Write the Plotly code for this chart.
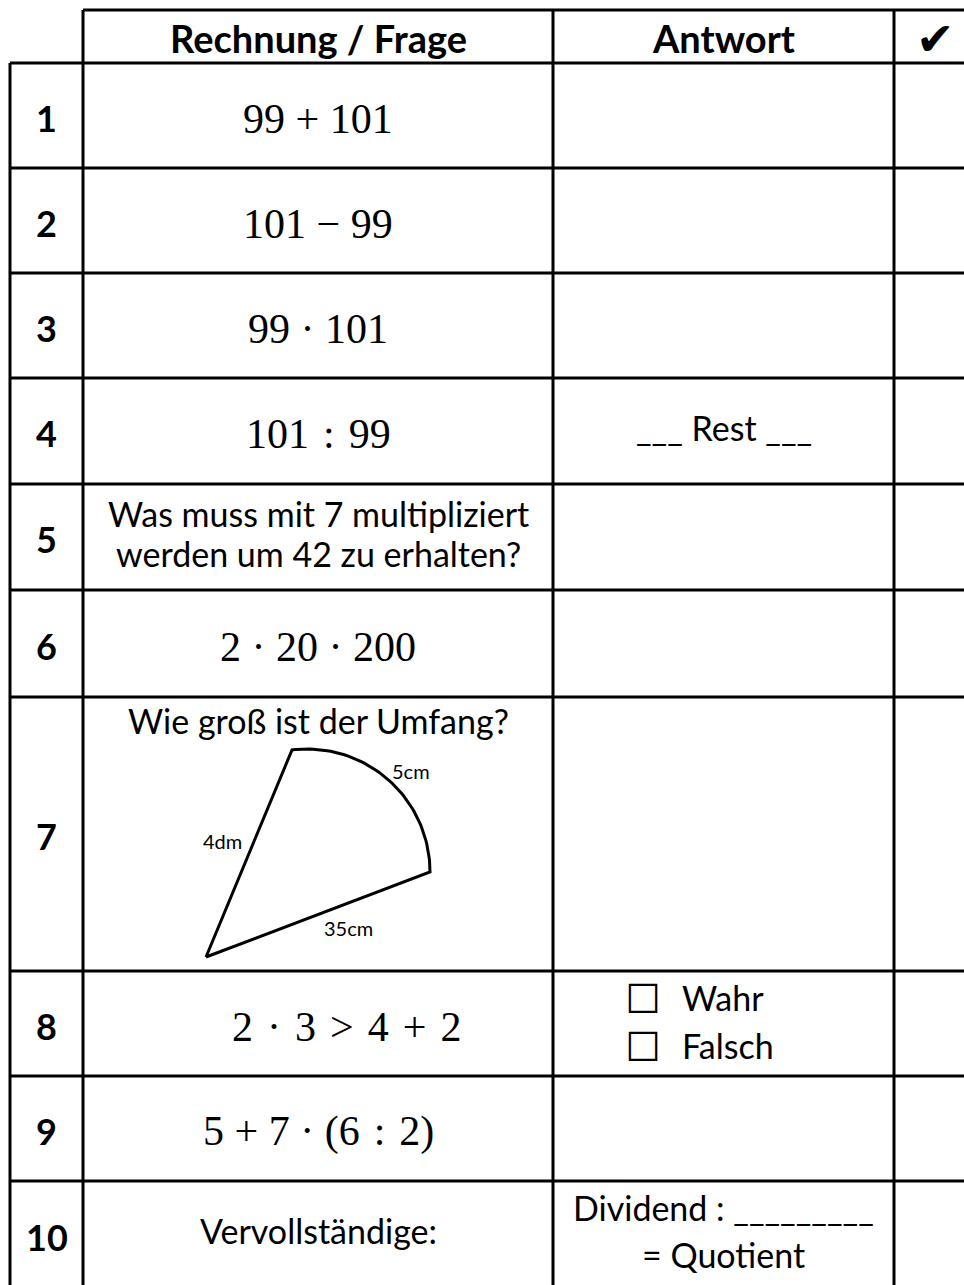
import numpy as np
import plotly.graph_objects as go

# ---------------- content ----------------
HEADERS = ["Rechnung / Frage", "Antwort", "✔"]
ROW_NUMBERS = ["1", "2", "3", "4", "5", "6", "7", "8", "9", "10"]
QUESTIONS = [
    "99 + 101",
    "101 − 99",
    "99 · 101",
    "101\u2004:\u200499",
    "Was muss mit 7 multipliziert<br>werden um 42 zu erhalten?",
    "2 · 20 · 200",
    "Wie groß ist der Umfang?",
    "2\u2004·\u20043\u2004>\u20044\u2004+\u20042",
    "5 + 7 · (6\u2004:\u20042)",
    "Vervollständige:",
]
QUESTION_IS_MATH = [True, True, True, True, False, True, False, True, True, False]
ANSWERS = ["", "", "", "___ Rest ___", "", "", "", "", "",
           "Dividend : _________<br>= Quotient"]
CHECK_ROW = 7                      # index of the Wahr/Falsch row
CHECK_OPTIONS = ["Wahr", "Falsch"]
FIG7_LABELS = ["5cm", "4dm", "35cm"]

# ---------------- layout / geometry (pixels) ----------------
W, H = 964, 1285
TOP = 10
ROW_EDGES = [63, 168, 273, 378, 484, 590, 697, 971, 1076, 1181, 1288]
X_LEFT, X_NUM, X_Q, X_A, X_RIGHT = 10, 83, 553, 894, 975
LINE_W = 3
Q_X_SHIFT = {7: 28}               # row 8 expression sits right of centre

# figure 7 (sector-like drawing)
FIG7_VERTEX = (206, 957)
FIG7_ARC_CENTER = (307, 872)
FIG7_ARC_RADIUS = 123
FIG7_ARC_DEG = (97, 0)
FIG7_LABEL_POS = [(411, 771), (222, 841), (348, 928)]

SANS = "Lato"
MATH = "Liberation Serif"
BLACK = "#000000"

fig = go.Figure()

# ---- grid lines ----
gx, gy = [], []
def seg(x0, y0, x1, y1):
    gx.extend([x0, x1, None]); gy.extend([y0, y1, None])

seg(X_NUM, TOP, X_RIGHT, TOP)
for y in ROW_EDGES[:-1]:
    seg(X_LEFT, y, X_RIGHT, y)
seg(X_LEFT, ROW_EDGES[0], X_LEFT, ROW_EDGES[-1])
for x in (X_NUM, X_Q, X_A):
    seg(x, TOP, x, ROW_EDGES[-1])
fig.add_trace(go.Scatter(x=gx, y=gy, mode="lines",
                         line=dict(color=BLACK, width=LINE_W),
                         hoverinfo="skip", showlegend=False))

# ---- figure 7 drawing ----
a0, a1 = np.deg2rad(FIG7_ARC_DEG[0]), np.deg2rad(FIG7_ARC_DEG[1])
t = np.linspace(a0, a1, 60)
arc_x = FIG7_ARC_CENTER[0] + FIG7_ARC_RADIUS * np.cos(t)
arc_y = FIG7_ARC_CENTER[1] - FIG7_ARC_RADIUS * np.sin(t)
sx = [FIG7_VERTEX[0]] + list(arc_x) + [FIG7_VERTEX[0]]
sy = [FIG7_VERTEX[1]] + list(arc_y) + [FIG7_VERTEX[1]]
fig.add_trace(go.Scatter(x=sx, y=sy, mode="lines",
                         line=dict(color=BLACK, width=3),
                         hoverinfo="skip", showlegend=False))

ann = []
def text(x, y, s, size, family=SANS, xanchor="center"):
    ann.append(dict(x=x, y=y, text=s, showarrow=False, xref="x", yref="y",
                    xanchor=xanchor, yanchor="middle",
                    font=dict(family=family, size=size, color=BLACK)))

def multiline(x, y_center, s, size, gap, family=SANS):
    lines = s.split("<br>")
    n = len(lines)
    for k, ln in enumerate(lines):
        text(x, y_center + (k - (n - 1) / 2) * gap, ln, size, family)

# headers
hy = (TOP + ROW_EDGES[0]) / 2 + 1
text((X_NUM + X_Q) / 2, hy, "<b>%s</b>" % HEADERS[0], 38)
text((X_Q + X_A) / 2, hy, "<b>%s</b>" % HEADERS[1], 38)
text(935, hy + 1, HEADERS[2], 46, family="DejaVu Sans")

for i in range(10):
    y0, y1 = ROW_EDGES[i], ROW_EDGES[i + 1]
    yc = (y0 + y1) / 2
    text((X_LEFT + X_NUM) / 2, yc + 2, "<b>%s</b>" % ROW_NUMBERS[i], 36)
    q = QUESTIONS[i]
    qx = (X_NUM + X_Q) / 2 + Q_X_SHIFT.get(i, 0)
    if i == 6:
        text(qx, 720, q, 34)
    elif QUESTION_IS_MATH[i]:
        text(qx, yc + 3, q, 42, family=MATH)
    else:
        multiline(qx, yc - 4, q, 34, 40)
    a = ANSWERS[i]
    if a:
        gap = 47 if "<br>" in a else 0
        multiline((X_Q + X_A) / 2, yc - 4, a, 34, gap)

# Wahr / Falsch
yc8 = (ROW_EDGES[CHECK_ROW] + ROW_EDGES[CHECK_ROW + 1]) / 2
for k, opt in enumerate(CHECK_OPTIONS):
    yy = yc8 + (k - 0.5) * 48 - 1
    text(643, yy, "☐", 40, family="DejaVu Sans")
    text(680, yy - 1, opt, 34, xanchor="left")

# figure labels
for lab, (lx, ly) in zip(FIG7_LABELS, FIG7_LABEL_POS):
    text(lx, ly, lab, 20)

fig.update_layout(
    width=W, height=H, autosize=False,
    margin=dict(l=0, r=0, t=0, b=0, pad=0),
    paper_bgcolor="white", plot_bgcolor="white",
    xaxis=dict(range=[0, W], visible=False, fixedrange=True),
    yaxis=dict(range=[H, 0], visible=False, fixedrange=True),
    annotations=ann, showlegend=False,
)

fig.write_html("out.html", config={"displayModeBar": False},
               post_script="document.body.style.margin='0';")
